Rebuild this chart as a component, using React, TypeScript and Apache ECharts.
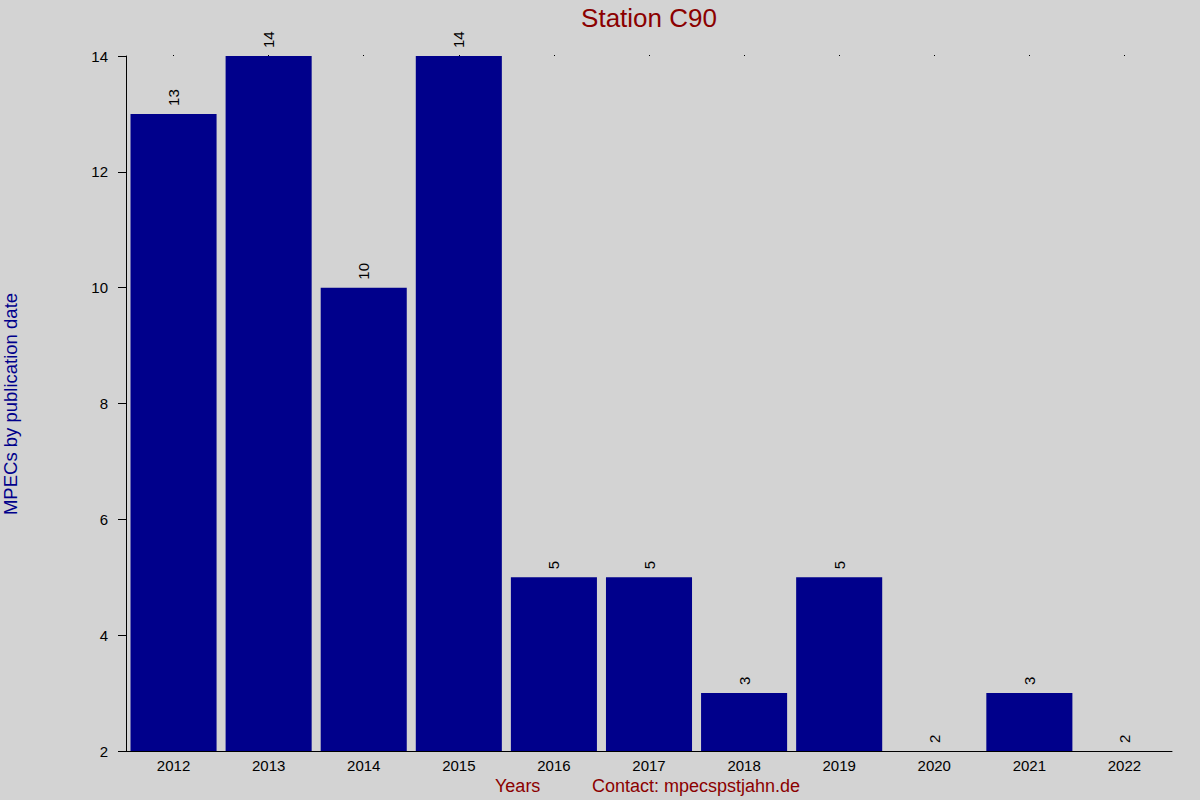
import { useEffect, useRef } from "react"
import * as echarts from "echarts"

const years = ["2012", "2013", "2014", "2015", "2016", "2017", "2018", "2019", "2020", "2021", "2022"]
const mpecCounts = [13, 14, 10, 14, 5, 5, 3, 5, 2, 3, 2]
const yTicks = { min: 2, max: 14, interval: 2 }

const FONT = "Liberation Sans, Arial, sans-serif"

export default function App() {
  const chartRef = useRef<HTMLDivElement>(null)

  useEffect(() => {
    document.body.style.margin = "0"
    if (!chartRef.current) return
    const chart = echarts.init(chartRef.current, undefined, { renderer: "svg" })

    chart.setOption({
      animation: false,
      backgroundColor: "#d3d3d3",
      textStyle: { fontFamily: FONT },
      grid: { left: 126, right: 28, top: 56, bottom: 49 },
      xAxis: [
        {
          type: "category",
          data: years,
          axisLine: { lineStyle: { color: "#000", width: 1 } },
          axisTick: { show: false },
          axisLabel: { color: "#000", fontSize: 15, margin: 7, fontFamily: FONT },
        },
        {
          // tiny dots along the top edge at each category centre
          type: "category",
          position: "top",
          data: years,
          axisLine: { show: false },
          axisTick: { show: true, alignWithLabel: true, length: 1, lineStyle: { color: "#000" } },
          axisLabel: { show: false },
        },
      ],
      yAxis: {
        type: "value",
        min: yTicks.min,
        max: yTicks.max,
        interval: yTicks.interval,
        axisLine: { show: true, lineStyle: { color: "#000", width: 1 } },
        axisTick: { show: true, length: 8, lineStyle: { color: "#000" } },
        splitLine: { show: false },
        axisLabel: { color: "#000", fontSize: 15, margin: 18, fontFamily: FONT },
      },
      graphic: [
        {
          type: "text",
          x: 649,
          y: 18,
          style: {
            text: "Station C90",
            fill: "#8b0000",
            fontSize: 26,
            fontFamily: FONT,
            align: "center",
            verticalAlign: "middle",
          },
        },
        {
          type: "text",
          x: 10,
          y: 404,
          rotation: Math.PI / 2,
          style: {
            text: "MPECs by publication date",
            fill: "#00008b",
            fontSize: 18.5,
            fontFamily: FONT,
            align: "center",
            verticalAlign: "middle",
          },
        },
        {
          type: "text",
          x: 495,
          y: 786,
          style: { text: "Years", fill: "#8b0000", fontSize: 18, fontFamily: FONT, verticalAlign: "middle" },
        },
        {
          type: "text",
          x: 592,
          y: 786,
          style: {
            text: "Contact: mpecspstjahn.de",
            fill: "#8b0000",
            fontSize: 18,
            fontFamily: FONT,
            verticalAlign: "middle",
          },
        },
      ],
      series: [
        {
          type: "bar",
          data: mpecCounts,
          barCategoryGap: "9.5%",
          itemStyle: { color: "#00008b" },
          label: {
            show: true,
            position: "top",
            rotate: 90,
            align: "left",
            verticalAlign: "middle",
            distance: 8,
            color: "#000",
            fontSize: 15,
            fontFamily: FONT,
          },
        },
      ],
    })

    return () => {
      chart.dispose()
    }
  }, [])

  return <div ref={chartRef} style={{ width: 1200, height: 800 }} />
}
